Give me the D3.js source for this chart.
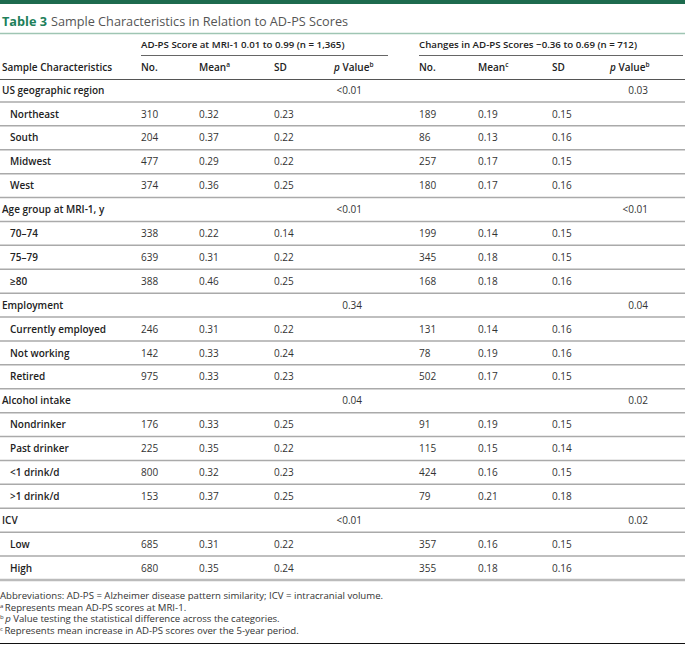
<!DOCTYPE html>
<html>
<head>
<meta charset="utf-8">
<script src="https://cdn.jsdelivr.net/npm/d3@7"></script>
<style>
  body { margin: 0; background: #fff; }
  svg { display: block; font-family: "Open Sans", sans-serif; }
</style>
</head>
<body>
<div id="container"></div>
<script>
// table values
var labels = ["US geographic region", "Northeast", "South", "Midwest", "West",
  "Age group at MRI-1, y", "70\u201374", "75\u201379", "\u226580",
  "Employment", "Currently employed", "Not working", "Retired",
  "Alcohol intake", "Nondrinker", "Past drinker", "<1 drink/d", ">1 drink/d",
  "ICV", "Low", "High"];
var isGroup = [1, 0, 0, 0, 0, 1, 0, 0, 0, 1, 0, 0, 0, 1, 0, 0, 0, 0, 1, 0, 0];
var no1 = ["", "310", "204", "477", "374", "", "338", "639", "388", "", "246", "142", "975", "", "176", "225", "800", "153", "", "685", "680"];
var mean1 = ["", "0.32", "0.37", "0.29", "0.36", "", "0.22", "0.31", "0.46", "", "0.31", "0.33", "0.33", "", "0.33", "0.35", "0.32", "0.37", "", "0.31", "0.35"];
var sd1 = ["", "0.23", "0.22", "0.22", "0.25", "", "0.14", "0.22", "0.25", "", "0.22", "0.24", "0.23", "", "0.25", "0.22", "0.23", "0.25", "", "0.22", "0.24"];
var p1 = ["<0.01", "", "", "", "", "<0.01", "", "", "", "0.34", "", "", "", "0.04", "", "", "", "", "<0.01", "", ""];
var no2 = ["", "189", "86", "257", "180", "", "199", "345", "168", "", "131", "78", "502", "", "91", "115", "424", "79", "", "357", "355"];
var mean2 = ["", "0.19", "0.13", "0.17", "0.17", "", "0.14", "0.18", "0.18", "", "0.14", "0.19", "0.17", "", "0.19", "0.15", "0.16", "0.21", "", "0.16", "0.18"];
var sd2 = ["", "0.15", "0.16", "0.15", "0.16", "", "0.15", "0.15", "0.16", "", "0.16", "0.16", "0.15", "", "0.15", "0.14", "0.15", "0.18", "", "0.15", "0.16"];
var p2 = ["0.03", "", "", "", "", "<0.01", "", "", "", "0.04", "", "", "", "0.02", "", "", "", "", "0.02", "", ""];

var footnotes = [
  ["", "Abbreviations: AD-PS = Alzheimer disease pattern similarity; ICV = intracranial volume."],
  ["a", "Represents mean AD-PS scores at MRI-1."],
  ["b", "p", " Value testing the statistical difference across the categories."],
  ["c", "Represents mean increase in AD-PS scores over the 5-year period."]
];

var W = 685, H = 645;
var green = "#1d6b4e", txt = "#333";

var svg = d3.select("#container").append("svg")
  .attr("width", W).attr("height", H);

// top bar + title
svg.append("rect").attr("x", 0).attr("y", 0).attr("width", W).attr("height", 4).attr("fill", green);
var title = svg.append("text").attr("x", 2).attr("y", 26).attr("font-size", 12.7);
title.append("tspan").attr("font-weight", 700).attr("fill", "#20805a").text("Table 3");
title.append("tspan").attr("dx", 4).attr("fill", "#555").text("Sample Characteristics in Relation to AD-PS Scores");
svg.append("line").attr("x1", 0).attr("x2", W).attr("y1", 33.5).attr("y2", 33.5)
  .attr("stroke", "#9fc5b3").attr("stroke-width", 1.5);

// column positions
var col = {label: 2, sub: 10, no1: 141, mean1: 199, sd1: 274, ph1: 334, p1: 362,
  no2: 419, mean2: 478, sd2: 552, ph2: 610, p2: 648};

// row scale
var y = d3.scalePoint().domain(d3.range(labels.length)).range([90, 568]);
var step = y.step();

// header
var head = svg.append("g").attr("font-weight", 600).attr("fill", "#222").attr("font-size", 10);
head.append("text").attr("x", col.no1).attr("y", 48).attr("font-size", 9.7)
  .text("AD-PS Score at MRI-1 0.01 to 0.99 (n = 1,365)");
head.append("text").attr("x", col.no2).attr("y", 48).attr("font-size", 9.7)
  .text("Changes in AD-PS Scores \u22120.36 to 0.69 (n = 712)");
svg.append("line").attr("x1", col.no1).attr("x2", 388).attr("y1", 55.5).attr("y2", 55.5).attr("stroke", "#666");
svg.append("line").attr("x1", col.no2).attr("x2", W - 2).attr("y1", 55.5).attr("y2", 55.5).attr("stroke", "#666");

head.append("text").attr("x", col.label).attr("y", 71).text("Sample Characteristics");
[["no1", "No."], ["sd1", "SD"], ["no2", "No."], ["sd2", "SD"]].forEach(function(h) {
  head.append("text").attr("x", col[h[0]]).attr("y", 71).text(h[1]);
});
[["mean1", "a"], ["mean2", "c"]].forEach(function(h) {
  var t = head.append("text").attr("x", col[h[0]]).attr("y", 71);
  t.append("tspan").text("Mean");
  t.append("tspan").attr("font-size", 6.5).attr("dy", -4).text(h[1]);
});
["ph1", "ph2"].forEach(function(k) {
  var t = head.append("text").attr("x", col[k]).attr("y", 71);
  t.append("tspan").attr("font-style", "italic").text("p");
  t.append("tspan").text(" Value");
  t.append("tspan").attr("font-size", 6.5).attr("dy", -4).text("b");
});
svg.append("line").attr("x1", 0).attr("x2", W).attr("y1", 79.5).attr("y2", 79.5).attr("stroke", "#555");

// row separators
var rows = d3.range(labels.length);
svg.append("g").selectAll("line").data(rows).join("line")
  .attr("x1", 0).attr("x2", W)
  .attr("y1", function(i) { return y(i) + step / 2; })
  .attr("y2", function(i) { return y(i) + step / 2; })
  .attr("stroke", function(i) { return i === labels.length - 1 ? "#bbb" : "#aaa"; })
  .attr("stroke-width", function(i) { return i === labels.length - 1 ? 2.5 : 1.5; });

// row cells
var body = svg.append("g").attr("font-size", 10).attr("fill", txt);
var g = body.selectAll("g").data(rows).join("g")
  .attr("transform", function(i) { return "translate(0," + (y(i) + 3.6) + ")"; });
g.append("text")
  .attr("x", function(i) { return isGroup[i] ? col.label : col.sub; })
  .attr("font-weight", 600).attr("fill", "#222")
  .text(function(i) { return labels[i]; });
[["no1", no1], ["mean1", mean1], ["sd1", sd1], ["no2", no2], ["mean2", mean2], ["sd2", sd2]].forEach(function(c) {
  g.append("text").attr("x", col[c[0]]).text(function(i) { return c[1][i]; });
});
[["p1", p1], ["p2", p2]].forEach(function(c) {
  g.append("text").attr("x", col[c[0]]).attr("text-anchor", "end").text(function(i) { return c[1][i]; });
});

// footnotes
var fy = d3.scalePoint().domain(d3.range(footnotes.length)).range([599, 634]);
var fn = svg.append("g").attr("font-size", 9.6).attr("fill", txt);
footnotes.forEach(function(f, i) {
  var t = fn.append("text").attr("x", 0).attr("y", fy(i));
  if (f[0]) {
    t.append("tspan").attr("font-size", 6).attr("dy", -3).text(f[0]);
    t.append("tspan").attr("dy", 3).attr("dx", 1.5)
      .attr("font-style", f.length > 2 ? "italic" : null).text(f[1]);
    if (f.length > 2) t.append("tspan").text(f[2]);
  } else {
    t.text(f[1]);
  }
});
svg.append("line").attr("x1", 0).attr("x2", W).attr("y1", 643.5).attr("y2", 643.5).attr("stroke", "#111").attr("stroke-width", 1.2);
</script>
</body>
</html>
